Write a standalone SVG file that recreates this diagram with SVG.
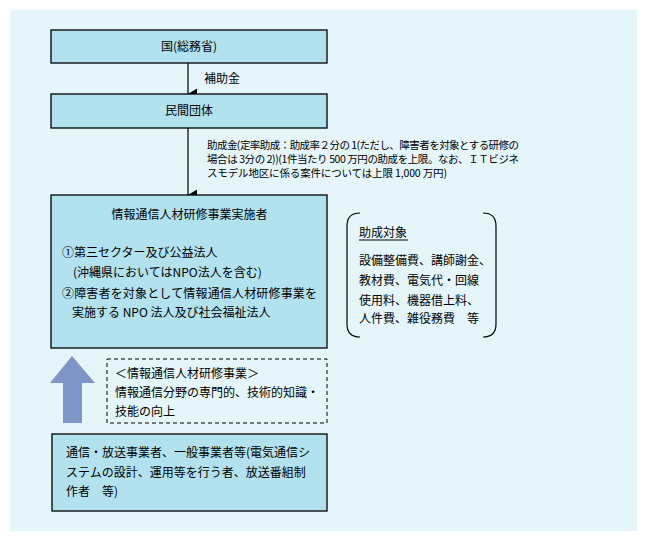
<svg xmlns="http://www.w3.org/2000/svg" width="647" height="541" viewBox="0 0 647 541">
<style>
text{font-family:"Noto Sans CJK JP","Noto Sans CJK SC",sans-serif;font-size:12px;fill:#000}
.box{fill:#b2e2ee;stroke:#000;stroke-width:1.3}
.ln{stroke:#000;stroke-width:1.2;fill:none}
.sm{font-size:10.5px}
</style>
<defs>
<marker id="ah" viewBox="0 0 11 9" refX="5.5" refY="9" markerWidth="11" markerHeight="9" markerUnits="userSpaceOnUse" orient="auto-start-reverse">
<path d="M0 0 L11 0 L5.5 9 Z" fill="#000"/>
</marker>
</defs>
<rect x="10" y="10" width="627" height="521" fill="#e5f5f9"/>
<g id="connectors">
<line class="ln" x1="188" y1="63" x2="188" y2="94" marker-end="url(#ah)"/>
<line class="ln" x1="188" y1="128" x2="188" y2="195" marker-end="url(#ah)"/>
<text x="204" y="83">補助金</text>
<text class="sm" x="207" y="149" textLength="312" lengthAdjust="spacing">助成金(定率助成：助成率２分の 1(ただし、障害者を対象とする研修の</text>
<text class="sm" x="207" y="163" textLength="312" lengthAdjust="spacing">場合は 3分の 2))(1件当たり 500 万円の助成を上限。なお、ＩＴビジネ</text>
<text class="sm" x="207" y="177" textLength="240" lengthAdjust="spacing">スモデル地区に係る案件については上限 1,000 万円)</text>
<path d="M63 423 L63 383 L50 383 L72 356 L95 383 L82 383 L82 423 Z" fill="#7e95c7"/>
</g>
<g id="node-kuni">
<rect class="box" x="51" y="30" width="276" height="33"/>
<text x="189" y="51" text-anchor="middle">国(総務省)</text>
</g>
<g id="node-minkan">
<rect class="box" x="51" y="94" width="276" height="34"/>
<text x="189" y="115" text-anchor="middle">民間団体</text>
</g>
<g id="node-jisshisha">
<rect class="box" x="51" y="195" width="276" height="153"/>
<text x="189.5" y="219" text-anchor="middle">情報通信人材研修事業実施者</text>
<text x="62" y="257">①第三セクター及び公益法人</text>
<text x="73" y="277">(沖縄県においてはNPO法人を含む)</text>
<text x="62" y="298" textLength="255" lengthAdjust="spacing">②障害者を対象として情報通信人材研修事業を</text>
<text x="72" y="317">実施する NPO 法人及び社会福祉法人</text>
</g>
<g id="node-taisho">
<path class="ln" d="M360 213 Q347 213 347 226 L347 324 Q347 337 360 337"/>
<path class="ln" d="M483 213 Q496 213 496 226 L496 324 Q496 337 483 337"/>
<text x="359" y="237">助成対象</text>
<line x1="359" y1="240" x2="408" y2="240" stroke="#000" stroke-width="1"/>
<text x="359" y="265">設備整備費、講師謝金、</text>
<text x="359" y="285">教材費、電気代・回線</text>
<text x="359" y="305">使用料、機器借上料、</text>
<text x="359" y="323">人件費、雑役務費　等</text>
</g>
<g id="node-jigyo">
<rect x="107" y="359" width="220" height="64" fill="none" stroke="#000" stroke-width="1" stroke-dasharray="4 3"/>
<text x="115" y="378">＜情報通信人材研修事業＞</text>
<text x="115" y="397">情報通信分野の専門的、技術的知識・</text>
<text x="115" y="416">技能の向上</text>
</g>
<g id="node-jigyosha">
<rect class="box" x="52" y="434" width="275" height="77"/>
<text x="66" y="457" textLength="244" lengthAdjust="spacing">通信・放送事業者、一般事業者等(電気通信シ</text>
<text x="66" y="477">ステムの設計、運用等を行う者、放送番組制</text>
<text x="66" y="496">作者　等)</text>
</g>
</svg>
